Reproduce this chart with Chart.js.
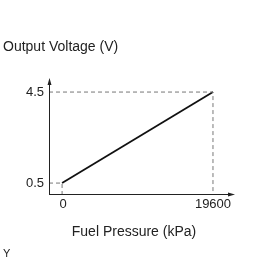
<!DOCTYPE html>
<html>
<head>
<meta charset="utf-8">
<script src="https://cdn.jsdelivr.net/npm/chart.js@4"></script>
<style>
  html, body { margin: 0; padding: 0; background: #fff; }
  #wrap { position: relative; width: 279px; height: 279px; }
</style>
</head>
<body>
<div id="wrap"><canvas id="grafico" width="279" height="279"></canvas></div>
<script>
// values
const pressure = [0, 19600];
const voltage = [0.5, 4.5];
const xTicks = [0, 19600];
const yTicks = [0.5, 4.5];
const xRange = [-1700, 22200];
const yRange = [0.02, 5.03];
const yTitle = "Output Voltage (V)";
const xTitle = "Fuel Pressure (kPa)";
const footLabel = "Y";

const FONT = "'Liberation Sans', Arial, sans-serif";

// guide lines built from the data
const lowGuide = [
    { x: xRange[0], y: voltage[0] },
    { x: pressure[0], y: voltage[0] },
    { x: pressure[0], y: yRange[0] }
];
const highGuide = [
    { x: xRange[0], y: voltage[1] },
    { x: pressure[1], y: voltage[1] },
    { x: pressure[1], y: yRange[0] }
];

const axesPlugin = {
    id: "axesPlugin",
    afterDatasetsDraw(chart) {
        const { ctx, chartArea: a, scales } = chart;
        const xs = scales.x, ys = scales.y;
        ctx.save();
        ctx.strokeStyle = "#222";
        ctx.fillStyle = "#222";
        ctx.lineWidth = 1;
        // y axis
        ctx.beginPath();
        ctx.moveTo(a.left + 0.5, a.bottom);
        ctx.lineTo(a.left + 0.5, a.top + 2);
        ctx.stroke();
        ctx.beginPath();
        ctx.moveTo(a.left + 0.5, a.top - 2);
        ctx.lineTo(a.left - 1.5, a.top + 5);
        ctx.lineTo(a.left + 2.5, a.top + 5);
        ctx.closePath();
        ctx.fill();
        // x axis
        ctx.beginPath();
        ctx.moveTo(a.left, a.bottom + 0.5);
        ctx.lineTo(a.right - 2, a.bottom + 0.5);
        ctx.stroke();
        ctx.beginPath();
        ctx.moveTo(a.right + 2, a.bottom + 0.5);
        ctx.lineTo(a.right - 5, a.bottom - 1.5);
        ctx.lineTo(a.right - 5, a.bottom + 2.5);
        ctx.closePath();
        ctx.fill();

        // tick labels
        ctx.font = "13px " + FONT;
        ctx.textBaseline = "middle";
        ctx.textAlign = "right";
        yTicks.forEach(v => ctx.fillText(String(v), a.left - 5, ys.getPixelForValue(v)));
        ctx.textAlign = "center";
        ctx.textBaseline = "top";
        xTicks.forEach(v => ctx.fillText(String(v), xs.getPixelForValue(v) + (v === 0 ? 1 : 0), a.bottom + 4));

        // titles
        ctx.font = "14px " + FONT;
        ctx.textAlign = "left";
        ctx.textBaseline = "middle";
        ctx.fillText(yTitle, 3, 47);
        ctx.textAlign = "center";
        ctx.fillText(xTitle, 134, 232);
        ctx.font = "11px " + FONT;
        ctx.textAlign = "left";
        ctx.fillText(footLabel, 3, 254);
        ctx.restore();
    }
};

new Chart(document.getElementById("grafico").getContext("2d"), {
    type: "scatter",
    data: {
        datasets: [
            {
                data: highGuide,
                showLine: true,
                borderColor: "#777",
                borderWidth: 1,
                borderDash: [4, 3],
                pointRadius: 0
            },
            {
                data: lowGuide,
                showLine: true,
                borderColor: "#777",
                borderWidth: 1,
                borderDash: [4, 3],
                pointRadius: 0
            },
            {
                data: pressure.map((p, i) => ({ x: p, y: voltage[i] })),
                showLine: true,
                borderColor: "#111",
                borderWidth: 1.8,
                pointRadius: 0
            }
        ]
    },
    options: {
        responsive: false,
        animation: false,
        events: [],
        layout: { padding: { left: 49, right: 46, top: 80, bottom: 85 } },
        plugins: { legend: { display: false }, tooltip: { enabled: false } },
        scales: {
            x: { type: "linear", min: xRange[0], max: xRange[1], display: false },
            y: { type: "linear", min: yRange[0], max: yRange[1], display: false }
        }
    },
    plugins: [axesPlugin]
});
</script>
</body>
</html>
